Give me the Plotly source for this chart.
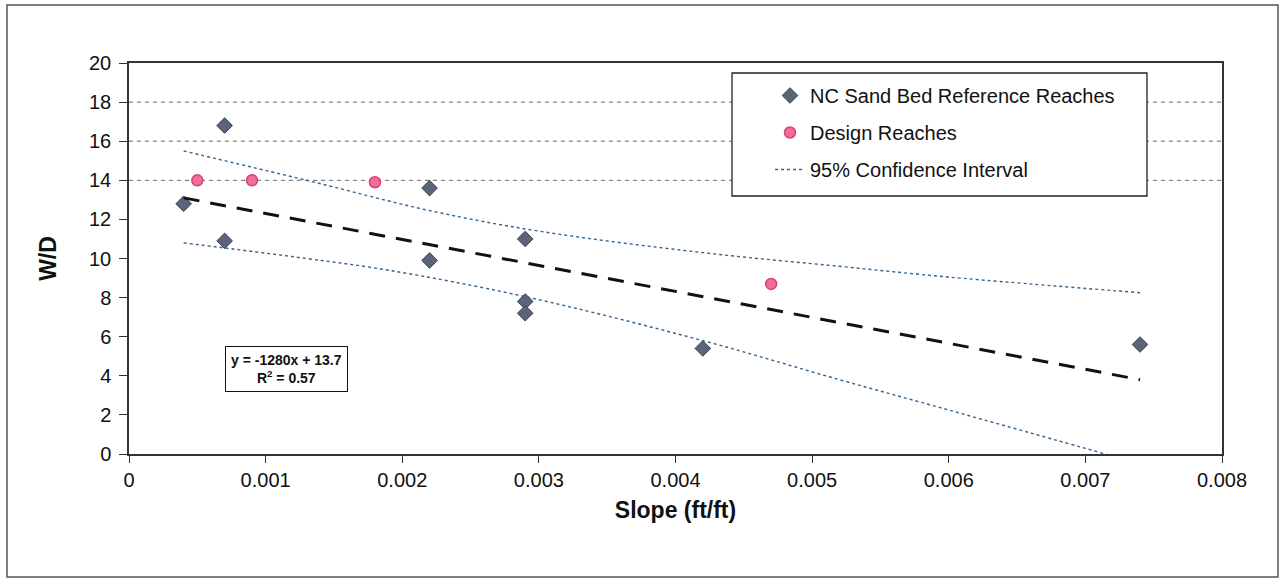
import plotly.graph_objects as go

# ---- data ----
ref_slope = [0.0004, 0.0007, 0.0007, 0.0022, 0.0022, 0.0029, 0.0029, 0.0029, 0.0042, 0.0074]
ref_wd = [12.8, 16.8, 10.9, 13.6, 9.9, 11.0, 7.8, 7.2, 5.4, 5.6]

design_slope = [0.0005, 0.0009, 0.0018, 0.0047]
design_wd = [14.0, 14.0, 13.9, 8.7]

trend_x = [0.0004, 0.0074]
trend_y = [13.1, 3.8]

ci_upper_x = [0.0004, 0.0013, 0.0022, 0.0030, 0.0042, 0.0052, 0.0060, 0.0074]
ci_upper_y = [15.5, 14.0, 12.45, 11.4, 10.3, 9.6, 9.05, 8.25]

ci_lower_x = [0.0004, 0.0013, 0.0019, 0.0029, 0.0042, 0.0052, 0.0060, 0.0074]
ci_lower_y = [10.8, 10.0, 9.4, 8.05, 5.8, 3.8, 2.25, -0.5]

grid_levels = [14, 16, 18]

x_tickvals = [0, 0.001, 0.002, 0.003, 0.004, 0.005, 0.006, 0.007, 0.008]
x_ticktext = ["0", "0.001", "0.002", "0.003", "0.004", "0.005", "0.006", "0.007", "0.008"]
y_tickvals = [0, 2, 4, 6, 8, 10, 12, 14, 16, 18, 20]

equation_text = "y = -1280x + 13.7<br>R<sup>2</sup> = 0.57"

# ---- layout geometry (pixels) ----
W, H = 1283, 580
L, R, T, B = 129, 61, 63, 126
pw, ph = W - L - R, H - T - B


def px_x(p):
    return (p - L) / pw


def px_y(p):
    return (H - B - p) / ph


FONT = "Liberation Sans, Arial, sans-serif"

fig = go.Figure()

fig.add_trace(go.Scatter(
    x=ref_slope, y=ref_wd, mode="markers", name="NC Sand Bed Reference Reaches",
    legendgroup="a",
    marker=dict(symbol="diamond", size=12, color="#5b6478",
                line=dict(color="#3a4152", width=1)),
))
fig.add_trace(go.Scatter(
    x=design_slope, y=design_wd, mode="markers", name="Design Reaches",
    legendgroup="b",
    marker=dict(symbol="circle", size=11, color="#ef6f98",
                line=dict(color="#dc3f76", width=1.5)),
))
fig.add_trace(go.Scatter(
    x=ci_upper_x, y=ci_upper_y, mode="lines", name="95% Confidence Interval",
    legendgroup="c", line=dict(color="#35648f", width=1.4, dash="3px,3px", shape="spline"),
))
fig.add_trace(go.Scatter(
    x=ci_lower_x, y=ci_lower_y, mode="lines", name="95% Confidence Interval",
    legendgroup="c", showlegend=False,
    line=dict(color="#35648f", width=1.4, dash="3px,3px", shape="spline"),
))
fig.add_trace(go.Scatter(
    x=trend_x, y=trend_y, mode="lines", name="trend", showlegend=False,
    line=dict(color="#111111", width=3, dash="16px,11px"),
))

shapes = []
for g in grid_levels:
    shapes.append(dict(type="line", xref="paper", yref="y", x0=0, x1=1, y0=g, y1=g,
                       line=dict(color="#666666", width=1, dash="4px,4px"), layer="below"))
# legend box
shapes.append(dict(type="rect", xref="paper", yref="paper",
                   x0=px_x(732), x1=px_x(1147), y0=px_y(196), y1=px_y(73),
                   line=dict(color="#222222", width=1.3), fillcolor="white", layer="above"))
# outer chart frame
shapes.append(dict(type="rect", xref="paper", yref="paper",
                   x0=px_x(7), x1=px_x(1278), y0=px_y(577), y1=px_y(5),
                   line=dict(color="#555555", width=1.5), fillcolor="rgba(0,0,0,0)", layer="below"))

fig.update_layout(
    width=W, height=H,
    margin=dict(l=L, r=R, t=T, b=B),
    paper_bgcolor="white", plot_bgcolor="white",
    font=dict(family=FONT, color="#111111"),
    shapes=shapes,
    showlegend=True,
    legend=dict(x=px_x(770), y=px_y(76), xanchor="left", yanchor="top",
                bgcolor="rgba(0,0,0,0)", borderwidth=0,
                font=dict(family=FONT, size=20, color="#111111"),
                tracegroupgap=8, traceorder="grouped"),
    xaxis=dict(range=[0, 0.008], tickvals=x_tickvals, ticktext=x_ticktext,
               showgrid=False, zeroline=False, showline=True, mirror=True,
               linecolor="#333333", linewidth=1.5, ticks="outside", ticklen=7,
               tickcolor="#333333", tickfont=dict(size=20, family=FONT),
               title=dict(text="<b>Slope (ft/ft)</b>", font=dict(size=23, family=FONT), standoff=12)),
    yaxis=dict(range=[0, 20], tickvals=y_tickvals,
               showgrid=False, zeroline=False, showline=True, mirror=True,
               linecolor="#333333", linewidth=1.5, ticks="outside", ticklen=8,
               tickcolor="#333333", tickfont=dict(size=20, family=FONT),
               ticklabelstandoff=4,
               title=dict(text="<b>W/D</b>", font=dict(size=23, family=FONT), standoff=26)),
    annotations=[dict(
        x=0.00115, y=4.35, xref="x", yref="y", text="<b>" + equation_text + "</b>",
        showarrow=False,
        font=dict(size=14, family=FONT, color="#111111"), align="center",
        bordercolor="#111111", borderwidth=1, borderpad=5, bgcolor="white",
    )],
)

fig.write_html("out.html")
